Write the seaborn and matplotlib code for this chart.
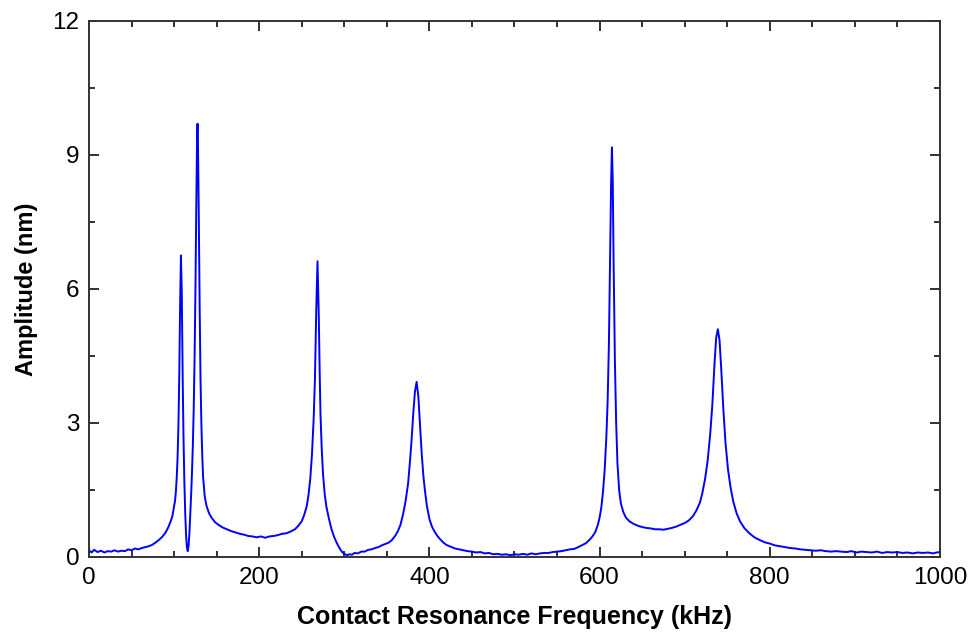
import numpy as np
import pandas as pd
import matplotlib
matplotlib.use('Agg')
import matplotlib.pyplot as plt
import seaborn as sns
from matplotlib.ticker import MultipleLocator

# Spectre (kHz, nm)
freq_khz = [
    0, 3, 6, 10, 14, 18, 22, 26, 30, 34, 38, 42, 46, 50, 54, 58, 62, 66, 70, 74,
    78, 82, 86, 90, 93, 96, 98, 100, 101, 102, 103, 104, 105, 106, 107, 108, 109, 110,
    111, 112, 113, 114, 115, 116, 117, 118, 119, 120, 121, 122, 123, 124, 125, 126,
    127, 127.5, 128, 129, 130, 131, 132, 133, 134, 136, 138, 141, 144, 148, 152, 157,
    162, 167, 172, 177, 182, 187, 192, 197, 202, 207, 212, 217, 222, 227, 232, 237,
    242, 246, 250, 253, 256, 258, 260, 262, 264, 265.5, 267, 268.5, 270, 271, 272,
    273.5, 275, 277, 279, 282, 285, 288, 291, 294, 297, 300, 303, 306, 309, 312, 316,
    320, 324, 328, 332, 336, 340, 344, 348, 352, 356, 360, 363, 366, 369, 372, 375,
    377, 379, 381, 383, 385, 387, 389, 391, 393, 395, 397, 400, 403, 406, 409, 412,
    416, 420, 425, 430, 435, 440, 445, 450, 455, 460, 465, 470, 475, 480, 485, 490,
    495, 500, 505, 510, 515, 520, 525, 530, 535, 540, 545, 550, 555, 560, 565, 570,
    575, 580, 584, 588, 592, 595, 598, 600, 602, 604, 606, 608, 609.5, 611, 612.5,
    613.5, 614.5, 615.5, 616.5, 618, 619.5, 621, 623, 625, 628, 631, 635, 640, 645,
    650, 655, 660, 665, 670, 675, 680, 685, 690, 695, 700, 705, 710, 714, 718, 721,
    724, 727, 730, 732.5, 735, 737, 739, 741, 743, 745.5, 748, 751, 754, 757, 761,
    765, 770, 776, 782, 788, 794, 800, 806, 812, 818, 824, 830, 836, 842, 848, 854,
    860, 866, 872, 878, 884, 890, 896, 902, 908, 914, 920, 926, 932, 938, 944, 950,
    956, 962, 968, 974, 980, 986, 992, 996, 1000,
]
amplitude_nm = [
    0.15, 0.10, 0.16, 0.11, 0.14, 0.10, 0.13, 0.12, 0.15, 0.12, 0.14, 0.13, 0.17, 0.15,
    0.19, 0.17, 0.20, 0.22, 0.24, 0.27, 0.32, 0.38, 0.45, 0.55, 0.66, 0.80, 0.92, 1.15,
    1.25, 1.45, 1.75, 2.2, 2.9, 4.0, 5.6, 6.75, 5.9, 4.1, 2.7, 1.7, 1.0, 0.5, 0.22,
    0.13, 0.25, 0.55, 0.95, 1.4, 1.9, 2.5, 3.3, 4.4, 5.9, 7.8, 9.4, 9.7, 9.3, 7.6, 5.6,
    4.0, 3.0, 2.3, 1.8, 1.35, 1.15, 0.98, 0.88, 0.78, 0.72, 0.66, 0.62, 0.58, 0.55,
    0.52, 0.50, 0.47, 0.46, 0.44, 0.46, 0.43, 0.46, 0.47, 0.49, 0.52, 0.53, 0.57, 0.62,
    0.70, 0.80, 0.95, 1.15, 1.40, 1.75, 2.3, 3.1, 4.0, 5.5, 6.62, 5.4, 4.2, 3.2, 2.4,
    1.85, 1.4, 1.12, 0.85, 0.62, 0.45, 0.32, 0.21, 0.12, 0.07, 0.04, 0.06, 0.05, 0.09,
    0.08, 0.12, 0.12, 0.16, 0.17, 0.20, 0.22, 0.26, 0.29, 0.32, 0.38, 0.48, 0.58, 0.72,
    0.95, 1.25, 1.65, 2.1, 2.6, 3.2, 3.7, 3.92, 3.6, 2.95, 2.3, 1.8, 1.45, 1.15, 0.85,
    0.68, 0.57, 0.48, 0.41, 0.33, 0.27, 0.23, 0.19, 0.17, 0.15, 0.13, 0.12, 0.10, 0.11,
    0.08, 0.09, 0.06, 0.07, 0.05, 0.06, 0.04, 0.06, 0.05, 0.07, 0.05, 0.08, 0.06, 0.08,
    0.09, 0.09, 0.11, 0.12, 0.13, 0.15, 0.17, 0.18, 0.22, 0.27, 0.31, 0.38, 0.47, 0.56,
    0.72, 0.88, 1.1, 1.45, 1.95, 2.7, 3.5, 4.8, 6.8, 8.3, 9.17, 8.4, 6.6, 4.4, 3.0, 2.1,
    1.5, 1.2, 1.0, 0.88, 0.8, 0.74, 0.70, 0.67, 0.65, 0.64, 0.62, 0.62, 0.61, 0.63,
    0.65, 0.68, 0.72, 0.76, 0.82, 0.92, 1.05, 1.22, 1.45, 1.75, 2.15, 2.75, 3.4, 4.3,
    4.9, 5.1, 4.85, 4.2, 3.3, 2.55, 1.95, 1.55, 1.25, 0.98, 0.8, 0.65, 0.53, 0.44, 0.38,
    0.33, 0.3, 0.26, 0.24, 0.22, 0.2, 0.19, 0.17, 0.16, 0.15, 0.14, 0.15, 0.13, 0.12,
    0.13, 0.12, 0.11, 0.13, 0.10, 0.12, 0.11, 0.10, 0.12, 0.09, 0.11, 0.10, 0.11, 0.09,
    0.10, 0.08, 0.10, 0.09, 0.10, 0.08, 0.10, 0.11,
]

x_ticks = [0, 200, 400, 600, 800, 1000]
y_ticks = [0, 3, 6, 9, 12]

spectre = pd.DataFrame({'Frequence': freq_khz, 'Amplitude': amplitude_nm})

sns.set_theme(style='ticks')
plt.rcParams['font.family'] = ['Liberation Sans', 'DejaVu Sans']

fig = plt.figure(figsize=(9.71, 6.34), dpi=100)
ax = fig.add_axes([0.0917, 0.1215, 0.8763, 0.8454])

sns.lineplot(data=spectre, x='Frequence', y='Amplitude', color='#0000ff',
             linewidth=1.4, ax=ax, sort=False)

ax.set_xlim(0, 1000)
ax.set_ylim(0, 12)
ax.set_xticks(x_ticks)
ax.set_yticks(y_ticks)
ax.xaxis.set_minor_locator(MultipleLocator(50))
ax.yaxis.set_minor_locator(MultipleLocator(1.5))
ax.tick_params(which='both', direction='in', top=True, right=True,
               colors='#222222', labelcolor='black', width=1.3)
ax.tick_params(which='major', length=7, labelsize=17.5, pad=7)
ax.tick_params(which='minor', length=4)
for s in ax.spines.values():
    s.set_linewidth(1.4)
    s.set_color('#333333')

ax.set_xlabel('Contact Resonance Frequency (kHz)', fontsize=18, fontweight='bold',
              labelpad=12, color='black')
ax.set_ylabel('Amplitude (nm)', fontsize=17, fontweight='bold', labelpad=10,
              color='black')

fig.savefig('out.png', dpi=100)
